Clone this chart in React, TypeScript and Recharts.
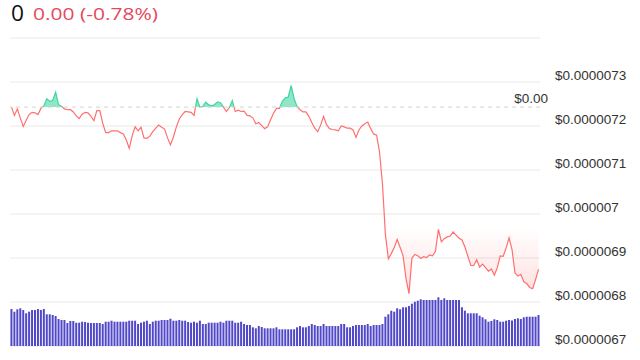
import React from "react";
import { ComposedChart, Area, Bar, XAxis, YAxis, CartesianGrid, ReferenceLine } from "recharts";

const prices = [
  7.243e-6, 7.224e-6, 7.239e-6, 7.218e-6, 7.199e-6, 7.213e-6, 7.226e-6, 7.231e-6, 7.230e-6, 7.226e-6,
  7.240e-6, 7.246e-6, 7.262e-6, 7.256e-6, 7.258e-6, 7.277e-6, 7.248e-6, 7.245e-6, 7.239e-6, 7.237e-6,
  7.237e-6, 7.232e-6, 7.223e-6, 7.217e-6, 7.227e-6, 7.231e-6, 7.230e-6, 7.222e-6, 7.212e-6, 7.235e-6,
  7.235e-6, 7.206e-6, 7.185e-6, 7.185e-6, 7.189e-6, 7.189e-6, 7.189e-6, 7.185e-6, 7.182e-6, 7.168e-6,
  7.149e-6, 7.178e-6, 7.198e-6, 7.189e-6, 7.197e-6, 7.173e-6, 7.172e-6, 7.177e-6, 7.187e-6, 7.195e-6,
  7.202e-6, 7.197e-6, 7.193e-6, 7.173e-6, 7.157e-6, 7.175e-6, 7.198e-6, 7.216e-6, 7.226e-6, 7.233e-6,
  7.232e-6, 7.231e-6, 7.224e-6, 7.262e-6, 7.243e-6, 7.245e-6, 7.254e-6, 7.248e-6, 7.246e-6, 7.249e-6,
  7.255e-6, 7.253e-6, 7.243e-6, 7.233e-6, 7.242e-6, 7.258e-6, 7.233e-6, 7.236e-6, 7.233e-6, 7.234e-6,
  7.224e-6, 7.223e-6, 7.218e-6, 7.205e-6, 7.208e-6, 7.201e-6, 7.194e-6, 7.198e-6, 7.214e-6, 7.229e-6,
  7.240e-6, 7.240e-6, 7.256e-6, 7.264e-6, 7.266e-6, 7.292e-6, 7.262e-6, 7.244e-6, 7.237e-6, 7.232e-6,
  7.232e-6, 7.222e-6, 7.208e-6, 7.195e-6, 7.187e-6, 7.202e-6, 7.222e-6, 7.203e-6, 7.194e-6, 7.192e-6,
  7.191e-6, 7.189e-6, 7.200e-6, 7.198e-6, 7.195e-6, 7.195e-6, 7.191e-6, 7.174e-6, 7.191e-6, 7.200e-6,
  7.205e-6, 7.209e-6, 7.194e-6, 7.182e-6, 7.179e-6, 7.141e-6, 7.068e-6, 6.953e-6, 6.898e-6, 6.910e-6,
  6.924e-6, 6.942e-6, 6.924e-6, 6.905e-6, 6.853e-6, 6.819e-6, 6.900e-6, 6.908e-6, 6.905e-6, 6.899e-6,
  6.903e-6, 6.901e-6, 6.907e-6, 6.905e-6, 6.915e-6, 6.965e-6, 6.937e-6, 6.944e-6, 6.948e-6, 6.950e-6,
  6.959e-6, 6.952e-6, 6.945e-6, 6.941e-6, 6.925e-6, 6.904e-6, 6.883e-6, 6.883e-6, 6.896e-6, 6.879e-6,
  6.886e-6, 6.878e-6, 6.870e-6, 6.875e-6, 6.861e-6, 6.878e-6, 6.905e-6, 6.904e-6, 6.923e-6, 6.946e-6,
  6.919e-6, 6.866e-6, 6.859e-6, 6.863e-6, 6.846e-6, 6.842e-6, 6.833e-6, 6.830e-6, 6.851e-6, 6.874e-6,
];

const volumes = [
  37, 34.3, 36.7, 37.7, 36, 32.7, 34.3, 36, 36, 37,
  36, 37, 31.7, 31.7, 31, 30, 27, 26, 26, 23,
  25, 25, 23.3, 23.3, 24.3, 24, 23.3, 23, 23, 23,
  23, 22, 24.3, 24.3, 25.3, 24.3, 24.3, 24.3, 24.3, 24.3,
  25.3, 25.3, 25.3, 22, 23.3, 24.3, 25.3, 22, 24.3, 25.3,
  25.3, 26, 26, 26, 27.3, 25.3, 25.3, 26, 25.3, 25.3,
  24, 23.3, 24.3, 23.3, 25.3, 22, 22, 23.3, 23.3, 23.3,
  23.3, 24.3, 23.3, 25.3, 25.3, 25.3, 23.3, 23.3, 24.3, 22,
  21, 21, 18.7, 17.7, 20, 19, 17.7, 17.7, 17.7, 17.7,
  18.7, 16.7, 16.7, 16.7, 16.7, 16.7, 16.7, 18.7, 20, 18.7,
  18.7, 20, 22, 21, 20, 20, 22, 20, 20, 20,
  20, 20, 22, 22, 18.7, 18.7, 20, 21, 21, 21,
  21, 22, 20, 21, 21, 21, 22, 29.3, 31.7, 35.3,
  34.3, 37.7, 36.7, 38.7, 38.7, 40, 42.3, 44.3, 45.3, 46.7,
  46, 46, 46, 46, 46, 48.7, 46, 47.7, 46, 46,
  46, 46, 46, 38.7, 35.3, 32.7, 32.7, 32.7, 32.7, 30.3,
  28.7, 26.7, 24.3, 25, 26.7, 26, 24.3, 24.3, 25.3, 26,
  25.5, 27, 27.7, 27, 28.7, 29.3, 29.3, 29.3, 29.3, 31,
];

const baseline = 7.243e-6;
const baselineLabel = "$0.00";
const priceTicks = [6.7e-6, 6.8e-6, 6.9e-6, 7.0e-6, 7.1e-6, 7.2e-6, 7.3e-6, 7.4e-6];
const tickLabels = ["$0.0000067", "$0.0000068", "$0.0000069", "$0.000007", "$0.0000071", "$0.0000072", "$0.0000073", ""];
const volumeDomain = [0, 308];

const titleValue = "0";
const titleChange = "0.00 (-0.78%)";

const data = prices.map((p, i) => ({ i, price: p, volume: volumes[i] }));

const maxP = Math.max(...prices);
const minP = Math.min(...prices);
const off = (maxP - baseline) / (maxP - minP);

const PriceTick = (props: any) => {
  const { x, y, index } = props;
  const label = tickLabels[index];
  if (!label) return null;
  return (
    <text x={x} y={y - 7} dominantBaseline="central" textAnchor="start" fontSize={13.5}
      fontFamily="'Liberation Sans', Arial, sans-serif" fill="#333">{label}</text>
  );
};

const BaseLabel = (props: any) => {
  const vb = props.viewBox || {};
  return (
    <text x={vb.x + vb.width + 8} y={vb.y - 4} textAnchor="end" fontSize={13.5}
      fontFamily="'Liberation Sans', Arial, sans-serif" fill="#333">{baselineLabel}</text>
  );
};

export default function App() {
  return (
    <div style={{ position: "absolute", left: 0, top: 0, width: 640, height: 360, background: "#fff" }}>
      <svg width={640} height={36} style={{ position: "absolute", left: 0, top: 0 }}>
        <text x={11} y={21} fontSize={21} fontFamily="'Open Sans', sans-serif" fill="#111"
          textLength={13} lengthAdjust="spacingAndGlyphs">{titleValue}</text>
        <text x={33} y={19.5} fontSize={15.5} fontFamily="'Open Sans', sans-serif" fill="#e5485c"
          textLength={125} lengthAdjust="spacingAndGlyphs">{titleChange}</text>
      </svg>
      <ComposedChart width={640} height={360} data={data}
        margin={{ top: 38, right: 0, bottom: 14, left: 10 }} barCategoryGap="15%">
        <defs>
          <linearGradient id="priceStroke" x1="0" y1="0" x2="0" y2="1">
            <stop offset={0} stopColor="#3fd6a0" />
            <stop offset={off} stopColor="#3fd6a0" />
            <stop offset={off} stopColor="#ff6f6f" />
            <stop offset={1} stopColor="#ff6f6f" />
          </linearGradient>
          <linearGradient id="priceFill" x1="0" y1="0" x2="0" y2="1">
            <stop offset={0} stopColor="#34d399" stopOpacity={0.55} />
            <stop offset={off} stopColor="#34d399" stopOpacity={0.55} />
            <stop offset={off} stopColor="#ff6f6f" stopOpacity={0} />
            <stop offset={0.68} stopColor="#ff6f6f" stopOpacity={0} />
            <stop offset={1} stopColor="#ff6f6f" stopOpacity={0.22} />
          </linearGradient>
        </defs>
        <CartesianGrid vertical={false} stroke="#e8e8e8" yAxisId="price" />
        <XAxis dataKey="i" type="category" tick={false} tickLine={false} height={0}
          axisLine={{ stroke: "#111", strokeWidth: 1.5 }} />
        <YAxis yAxisId="price" orientation="right" width={100} domain={[6.7e-6, 7.4e-6]}
          ticks={priceTicks} tick={<PriceTick />} axisLine={false} tickLine={false}
          tickSize={0} tickMargin={15} interval={0} />
        <YAxis yAxisId="vol" hide domain={volumeDomain} />
        <ReferenceLine yAxisId="price" y={baseline} stroke="#d4d4d4" strokeDasharray="4 4"
          label={<BaseLabel />} />
        <Bar yAxisId="vol" dataKey="volume" fill="#5047c9" isAnimationActive={false} />
        <Area yAxisId="price" type="linear" dataKey="price" baseValue={baseline}
          stroke="url(#priceStroke)" strokeWidth={1.2} fill="url(#priceFill)" fillOpacity={1}
          dot={false} activeDot={false} isAnimationActive={false} />
      </ComposedChart>
    </div>
  );
}
